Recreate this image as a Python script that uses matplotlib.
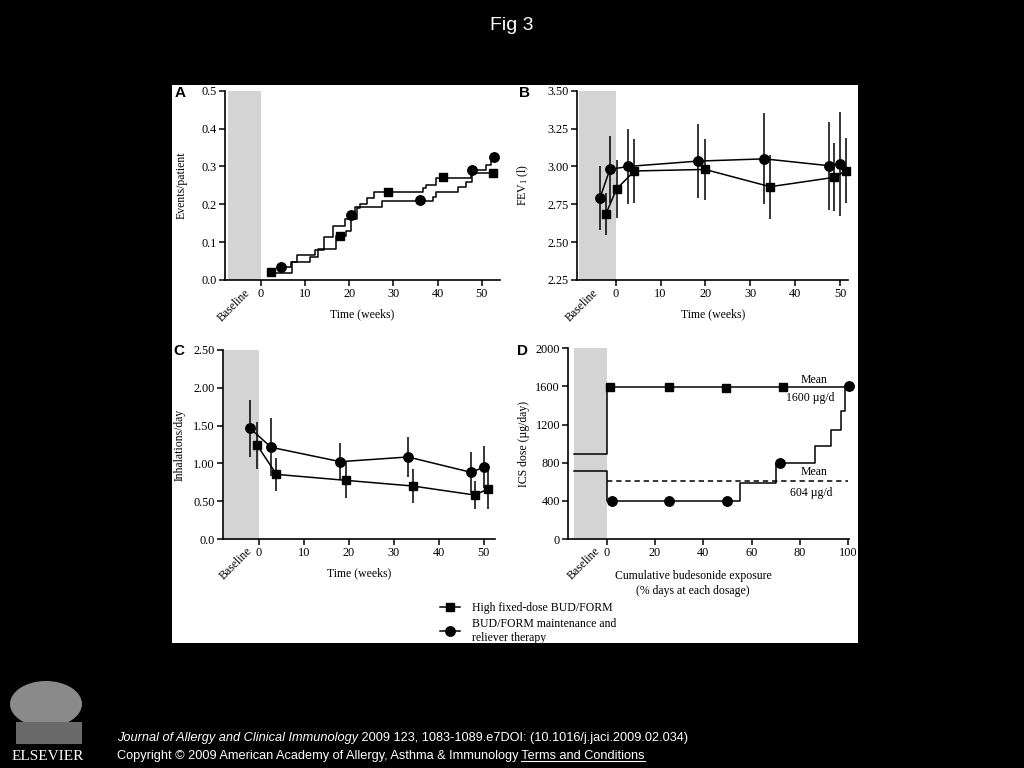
import matplotlib
matplotlib.use('Agg')
import matplotlib.pyplot as plt
from matplotlib.patches import Rectangle, Ellipse
from matplotlib.lines import Line2D
import matplotlib.transforms as mtransforms

plt.rcParams['font.family'] = ['Liberation Serif', 'DejaVu Serif']
plt.rcParams['mathtext.fontset'] = 'custom'
plt.rcParams['mathtext.rm'] = 'Liberation Serif'
plt.rcParams['mathtext.it'] = 'Liberation Serif:italic'
plt.rcParams['axes.linewidth'] = 1.2

# ---- Panel A: cumulative events (step curves) ----
a_fix_x = [2.4, 7.0, 11.2, 13.0, 17.0, 19.3, 20.3, 21.7, 22.5, 24.0, 25.5, 36.6, 37.4, 39.7, 47.5, 53.0]
a_fix_y = [0.018, 0.048, 0.062, 0.082, 0.115, 0.13, 0.16, 0.19, 0.2, 0.216, 0.232, 0.242, 0.25, 0.27, 0.283, 0.283]
a_smt_x = [4.1, 6.8, 8.2, 12.3, 14.3, 16.3, 19.0, 20.5, 21.2, 27.3, 39.0, 39.6, 44.5, 46.5, 47.7, 51.0, 52.0, 52.6]
a_smt_y = [0.034, 0.048, 0.066, 0.08, 0.113, 0.143, 0.16, 0.173, 0.193, 0.208, 0.22, 0.232, 0.245, 0.26, 0.291, 0.305, 0.317, 0.324]
a_fix_mx = [2.4, 18.0, 28.8, 41.1, 52.6]
a_fix_my = [0.02, 0.115, 0.233, 0.271, 0.283]
a_smt_mx = [4.5, 20.5, 36.0, 47.7, 52.7]
a_smt_my = [0.034, 0.173, 0.212, 0.291, 0.325]

# ---- Panel B: FEV1 ----
b_smt_x = [-3.5, -1.3, 2.8, 18.3, 33.1, 47.4, 50.0]
b_smt_y = [2.79, 2.98, 3.0, 3.035, 3.05, 3.005, 3.015]
b_smt_e = [0.21, 0.22, 0.245, 0.245, 0.30, 0.29, 0.345]
b_fix_x = [-2.2, 0.2, 4.2, 19.9, 34.4, 48.7, 51.3]
b_fix_y = [2.684, 2.851, 2.97, 2.98, 2.866, 2.928, 2.972]
b_fix_e = [0.14, 0.19, 0.21, 0.20, 0.21, 0.225, 0.215]

# ---- Panel C: reliever inhalations ----
c_smt_x = [-2.0, 2.7, 18.1, 33.2, 47.2, 50.0]
c_smt_y = [1.465, 1.213, 1.023, 1.085, 0.882, 0.948]
c_smt_e = [0.375, 0.385, 0.245, 0.27, 0.27, 0.28]
c_fix_x = [-0.4, 3.9, 19.3, 34.2, 48.0, 51.0]
c_fix_y = [1.24, 0.855, 0.776, 0.701, 0.582, 0.661]
c_fix_e = [0.31, 0.215, 0.24, 0.22, 0.19, 0.26]

# ---- Panel D: ICS dose ----
d_fix_x = [-13.4, 0, 100]
d_fix_y = [888, 1590, 1590]
d_smt_x = [-13.4, 0, 55.2, 69.9, 86.2, 92.7, 97.0, 98.6, 100]
d_smt_y = [713, 400, 590, 795, 980, 1145, 1340, 1590, 1590]
d_fix_mx = [1.4, 25.8, 49.2, 73.1]
d_fix_my = [1590, 1595, 1580, 1590]
d_smt_mx = [2.3, 25.9, 49.9, 71.7, 100.3]
d_smt_my = [400, 400, 400, 794, 1600]
d_mean_smt = 604

W, H = 1024, 768
fig = plt.figure(figsize=(10.24, 7.68), dpi=100, facecolor='black')

def fr(x0, y0, x1, y1):
    # pixel box (top-left origin) -> figure fraction rect
    return [x0 / W, 1 - y1 / H, (x1 - x0) / W, (y1 - y0) / H]

fig.add_artist(Rectangle((172 / W, 1 - 643 / H), (858 - 172) / W, (643 - 85) / H,
                         transform=fig.transFigure, fc='white', ec='none', zorder=-5))

gray = '#d4d4d4'
ms_sq = 6
ms_ci = 6.8
fs_tick = 8.8
fs_lab = 8.5

def style(ax):
    ax.set_facecolor('none')
    for s in ['top', 'right']:
        ax.spines[s].set_visible(False)
    ax.tick_params(direction='out', length=4, width=1.1, labelsize=fs_tick, pad=2, colors='black')

def baseline(ax, x, y=-0.035):
    tr = mtransforms.blended_transform_factory(ax.transData, ax.transAxes)
    ax.text(x, y, 'Baseline', transform=tr, rotation=45, ha='right', va='top', fontsize=fs_lab)

def letter(x, y, s):
    fig.text(x / W, 1 - y / H, s, fontsize=11, fontweight='bold', family='Liberation Sans',
             ha='center', va='center', color='black')

# Panel A
axA = fig.add_axes(fr(225, 90.7, 500, 280))
style(axA)
axA.axvspan(-7.5, 0, color=gray, lw=0, zorder=0)
axA.step(a_fix_x, a_fix_y, where='post', color='black', lw=1.1)
axA.step(a_smt_x, a_smt_y, where='post', color='black', lw=1.1)
axA.plot(a_fix_mx, a_fix_my, 's', color='black', ms=ms_sq, clip_on=False)
axA.plot(a_smt_mx, a_smt_my, 'o', color='black', ms=ms_ci, clip_on=False)
axA.set_xlim(-8.1, 54.1)
axA.set_ylim(0, 0.5)
axA.set_xticks([0, 10, 20, 30, 40, 50])
axA.set_yticks([0.0, 0.1, 0.2, 0.3, 0.4, 0.5])
axA.set_yticklabels(['0.0', '0.1', '0.2', '0.3', '0.4', '0.5'])
axA.set_xlabel('Time (weeks)', fontsize=fs_lab, labelpad=6)
axA.set_ylabel('Events/patient', fontsize=fs_lab)
axA.yaxis.set_label_coords(-0.135, 0.5)
baseline(axA, -2.0, -0.037)
letter(180, 93, 'A')

# Panel B
axB = fig.add_axes(fr(577, 90.7, 848.3, 280))
style(axB)
axB.axvspan(-8.1, 0, color=gray, lw=0, zorder=0)
axB.errorbar(b_smt_x, b_smt_y, yerr=b_smt_e, fmt='-o', color='black', lw=1.1, elinewidth=1.1,
             capsize=0, ms=ms_ci, clip_on=False)
axB.errorbar(b_fix_x, b_fix_y, yerr=b_fix_e, fmt='-s', color='black', lw=1.1, elinewidth=1.1,
             capsize=0, ms=ms_sq, clip_on=False)
axB.set_xlim(-8.6, 51.8)
axB.set_ylim(2.25, 3.5)
axB.set_xticks([0, 10, 20, 30, 40, 50])
axB.set_yticks([2.25, 2.5, 2.75, 3.0, 3.25, 3.5])
axB.set_yticklabels(['2.25', '2.50', '2.75', '3.00', '3.25', '3.50'])
axB.set_xlabel('Time (weeks)', fontsize=fs_lab, labelpad=6)
axB.set_ylabel('FEV$_{1}$ (l)', fontsize=fs_lab)
axB.yaxis.set_label_coords(-0.168, 0.5)
baseline(axB, -3.3, -0.035)
letter(525, 93, 'B')

# Panel C
axC = fig.add_axes(fr(223, 350, 495.3, 539))
style(axC)
axC.axvspan(-7.8, 0, color=gray, lw=0, zorder=0)
axC.errorbar(c_smt_x, c_smt_y, yerr=c_smt_e, fmt='-o', color='black', lw=1.1, elinewidth=1.1,
             capsize=0, ms=ms_ci, clip_on=False)
axC.errorbar(c_fix_x, c_fix_y, yerr=c_fix_e, fmt='-s', color='black', lw=1.1, elinewidth=1.1,
             capsize=0, ms=ms_sq, clip_on=False)
axC.set_xlim(-8.0, 52.6)
axC.set_ylim(0, 2.5)
axC.set_xticks([0, 10, 20, 30, 40, 50])
axC.set_yticks([0, 0.5, 1.0, 1.5, 2.0, 2.5])
axC.set_yticklabels(['0.0', '0.50', '1.00', '1.50', '2.00', '2.50'])
axC.set_xlabel('Time (weeks)', fontsize=fs_lab, labelpad=6)
axC.set_ylabel('Inhalations/day', fontsize=fs_lab)
axC.yaxis.set_label_coords(-0.138, 0.5)
baseline(axC, -1.1, -0.032)
letter(179, 351, 'C')

# Panel D
axD = fig.add_axes(fr(568.3, 348.3, 849.3, 539))
style(axD)
axD.axvspan(-13.4, 0, color=gray, lw=0, zorder=0)
axD.step(d_fix_x, d_fix_y, where='post', color='black', lw=1.1)
axD.step(d_smt_x, d_smt_y, where='post', color='black', lw=1.1)
axD.plot([0, 100], [d_mean_smt, d_mean_smt], '--', color='black', lw=1.1, dashes=(3.5, 2.5))
axD.plot(d_fix_mx, d_fix_my, 's', color='black', ms=ms_sq, clip_on=False)
axD.plot(d_smt_mx, d_smt_my, 'o', color='black', ms=ms_ci, clip_on=False)
axD.set_xlim(-15.9, 100.4)
axD.set_ylim(0, 2000)
axD.set_xticks([0, 20, 40, 60, 80, 100])
axD.set_yticks([0, 400, 800, 1200, 1600, 2000])
axD.text(85.8, 1668, 'Mean', ha='center', va='center', fontsize=fs_lab)
axD.text(84.1, 1476, '1600 µg/d', ha='center', va='center', fontsize=fs_lab)
axD.text(85.8, 700, 'Mean', ha='center', va='center', fontsize=fs_lab)
axD.text(84.8, 479, '604 µg/d', ha='center', va='center', fontsize=fs_lab)
axD.set_xlabel('Cumulative budesonide exposure\n(% days at each dosage)', fontsize=fs_lab,
               labelpad=7.5, linespacing=1.35)
axD.xaxis.label.set_x(0.444)
axD.set_ylabel('ICS dose (µg/day)', fontsize=fs_lab)
axD.yaxis.set_label_coords(-0.136, 0.5)
baseline(axD, -1.8, -0.032)
letter(522, 351, 'D')

# Legend
handles = [Line2D([], [], color='black', marker='s', ms=ms_sq, lw=1.1),
           Line2D([], [], color='black', marker='o', ms=ms_ci, lw=1.1)]
labels = ['High fixed-dose BUD/FORM', 'BUD/FORM maintenance and\nreliever therapy']
fig.legend(handles, labels, loc='upper left', bbox_to_anchor=(440 / W, 1 - 602 / H),
           frameon=False, fontsize=fs_lab, handlelength=1.7, handletextpad=1.0,
           labelspacing=0.35, borderpad=0, borderaxespad=0)

# Title and footer
fig.text(0.5, 1 - 26 / H, 'Fig 3', color='white', fontsize=14, family='Liberation Sans',
         ha='center', va='center')

fs_foot = 9.2
fig.canvas.draw()
r = fig.canvas.get_renderer()
t1 = fig.text(117 / W, 1 - 738 / H, 'Journal of Allergy and Clinical Immunology', color='white',
              fontsize=fs_foot, family='Liberation Sans', style='italic', va='center')
bb = t1.get_window_extent(r)
fig.text(bb.x1 / W, 1 - 738 / H, ' 2009 123, 1083-1089.e7DOI: (10.1016/j.jaci.2009.02.034)',
         color='white', fontsize=fs_foot, family='Liberation Sans', va='center')
t3 = fig.text(117 / W, 1 - 756 / H, 'Copyright © 2009 American Academy of Allergy, Asthma & Immunology',
              color='white', fontsize=fs_foot, family='Liberation Sans', va='center')
bb3 = t3.get_window_extent(r)
t4 = fig.text(bb3.x1 / W, 1 - 756 / H, ' Terms and Conditions', color='white', fontsize=fs_foot,
              family='Liberation Sans', va='center')
bb4 = t4.get_window_extent(r)
fig.add_artist(Line2D([(bb4.x0 + 2) / W, bb4.x1 / W], [bb4.y0 / H + 0.001, bb4.y0 / H + 0.001],
                      color='white', lw=0.8, transform=fig.transFigure))

# Publisher logo (rough stand-in for the tree emblem)
fig.add_artist(Ellipse((46 / W, 1 - 704 / H), 72 / W, 46 / H, transform=fig.transFigure,
                       fc='#8a8a8a', ec='none'))
fig.add_artist(Rectangle((16 / W, 1 - 744 / H), 66 / W, 22 / H, transform=fig.transFigure,
                         fc='#6a6a6a', ec='none'))
fig.text(48 / W, 1 - 756 / H, 'ELSEVIER', color='white', fontsize=11, ha='center', va='center',
         family='Liberation Serif')

fig.savefig('out.png', dpi=100, facecolor='black')
